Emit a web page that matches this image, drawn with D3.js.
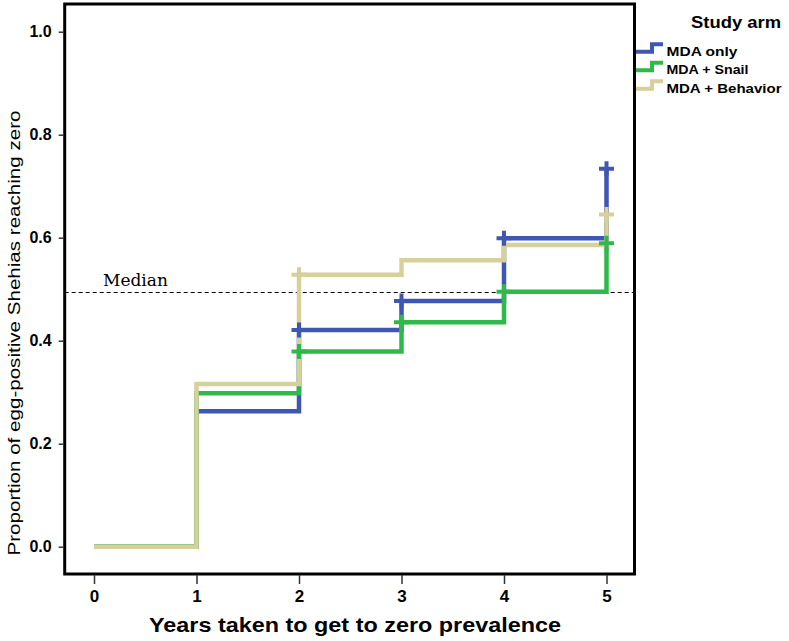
<!DOCTYPE html>
<html>
<head>
<meta charset="utf-8">
<script src="https://cdn.jsdelivr.net/npm/d3@7"></script>
<style>
  html, body { margin: 0; padding: 0; background: #fff; }
  svg { display: block; }
</style>
</head>
<body>
<svg id="chart" width="789" height="641"></svg>
<script>
// ---- data ----
const years = [0, 1, 2, 3, 4, 5];
const seriesNames = ["MDA only", "MDA + Snail", "MDA + Behavior"];
const mdaOnly     = [0, 0.263, 0.421, 0.477, 0.599, 0.734];
const mdaSnail    = [0, 0.298, 0.379, 0.436, 0.495, 0.589];
const mdaBehavior = [0, 0.316, 0.528, 0.556, 0.586, 0.645];
// censored marks (year indices)
const censorOnly     = [2, 3, 4, 5];
const censorSnail    = [2, 3, 4, 5];
const censorBehavior = [2, 5];
const xTicks = [0, 1, 2, 3, 4, 5];
const yTicks = [0, 0.2, 0.4, 0.6, 0.8, 1.0];
const medianValue = 0.495;
const colors = ["#3f57b2", "#2fb94b", "#d6d09b"];

const svg = d3.select("#chart");
const x = d3.scaleLinear().domain([0, 5]).range([94, 606.5]);
const y = d3.scaleLinear().domain([0, 1]).range([546.7, 31.7]);

const frame = { left: 64.7, top: 4, right: 634.5, bottom: 574 };

// median line
const my = Math.round(y(medianValue)) + 0.5;
svg.append("line")
  .attr("x1", frame.left).attr("x2", frame.right)
  .attr("y1", my).attr("y2", my)
  .attr("stroke", "#000").attr("stroke-width", 1)
  .attr("stroke-dasharray", "4,3");
svg.append("text")
  .attr("x", 103).attr("y", y(medianValue) - 6)
  .attr("font-family", "DejaVu Serif").attr("font-size", 17)
  .text("Median");

// step lines
const series = [
  { name: seriesNames[0], vals: mdaOnly, cens: censorOnly, color: colors[0] },
  { name: seriesNames[1], vals: mdaSnail, cens: censorSnail, color: colors[1] },
  { name: seriesNames[2], vals: mdaBehavior, cens: censorBehavior, color: colors[2] }
];
const line = d3.line().x(d => x(d[0])).y(d => y(d[1])).curve(d3.curveStepAfter);
series.forEach(s => {
  svg.append("path")
    .attr("d", line(years.map((t, i) => [t, s.vals[i]])))
    .attr("fill", "none").attr("stroke", s.color).attr("stroke-width", 4.5);
});
// censor marks
series.forEach(s => {
  s.cens.forEach(i => {
    const cx = x(years[i]), cy = y(s.vals[i]);
    svg.append("path")
      .attr("d", `M${cx - 7.5},${cy}H${cx + 7.5}M${cx},${cy - 7.5}V${cy + 7.5}`)
      .attr("stroke", s.color).attr("stroke-width", 4).attr("fill", "none");
  });
});

// frame
svg.append("rect")
  .attr("x", frame.left).attr("y", frame.top)
  .attr("width", frame.right - frame.left).attr("height", frame.bottom - frame.top)
  .attr("fill", "none").attr("stroke", "#000").attr("stroke-width", 3);

// x axis
const xAxis = d3.axisBottom(x).tickValues(xTicks).tickFormat(d3.format("d")).tickSize(9).tickPadding(6);
const gx = svg.append("g").attr("transform", `translate(0,${frame.bottom + 1})`).call(xAxis);
gx.select(".domain").remove();
gx.selectAll("line").attr("stroke", "#333").attr("stroke-width", 1.5);
gx.selectAll("text").attr("font-family", "Liberation Sans, Arial, sans-serif")
  .attr("font-weight", "bold").attr("font-size", 17).attr("fill", "#000");

// y axis
const yAxis = d3.axisLeft(y).tickValues(yTicks).tickFormat(d3.format(".1f")).tickSize(5).tickPadding(7);
const gy = svg.append("g").attr("transform", `translate(${frame.left - 1},0)`).call(yAxis);
gy.select(".domain").remove();
gy.selectAll("line").attr("stroke", "#333").attr("stroke-width", 1.5);
gy.selectAll("text").attr("font-family", "Liberation Sans, Arial, sans-serif")
  .attr("font-weight", "bold").attr("font-size", 16).attr("fill", "#000");

// axis titles
svg.append("text")
  .attr("x", 355).attr("y", 632)
  .attr("text-anchor", "middle")
  .attr("font-family", "Liberation Sans, Arial, sans-serif")
  .attr("font-weight", "bold").attr("font-size", 21)
  .attr("textLength", 412).attr("lengthAdjust", "spacingAndGlyphs")
  .text("Years taken to get to zero prevalence");
svg.append("text")
  .attr("transform", "translate(20,333) rotate(-90)")
  .attr("text-anchor", "middle")
  .attr("font-family", "Liberation Sans, Arial, sans-serif")
  .attr("font-size", 17)
  .attr("textLength", 445).attr("lengthAdjust", "spacingAndGlyphs")
  .text("Proportion of egg-positive Shehias reaching zero");

// legend
svg.append("text")
  .attr("x", 691).attr("y", 28)
  .attr("font-family", "Liberation Sans, Arial, sans-serif")
  .attr("font-weight", "bold").attr("font-size", 16)
  .attr("textLength", 90).attr("lengthAdjust", "spacingAndGlyphs")
  .text("Study arm");
const legendWidths = [71, 82, 115];
series.forEach((s, i) => {
  const by = 55.7 + i * 18.5;
  svg.append("path")
    .attr("d", `M636,${by - 4}H652V${by - 11.5}H663`)
    .attr("fill", "none").attr("stroke", s.color).attr("stroke-width", 4);
  svg.append("text")
    .attr("x", 666.5).attr("y", by)
    .attr("font-family", "Liberation Sans, Arial, sans-serif")
    .attr("font-weight", "bold").attr("font-size", 13)
    .attr("textLength", legendWidths[i]).attr("lengthAdjust", "spacingAndGlyphs")
    .text(s.name);
});
</script>
</body>
</html>
